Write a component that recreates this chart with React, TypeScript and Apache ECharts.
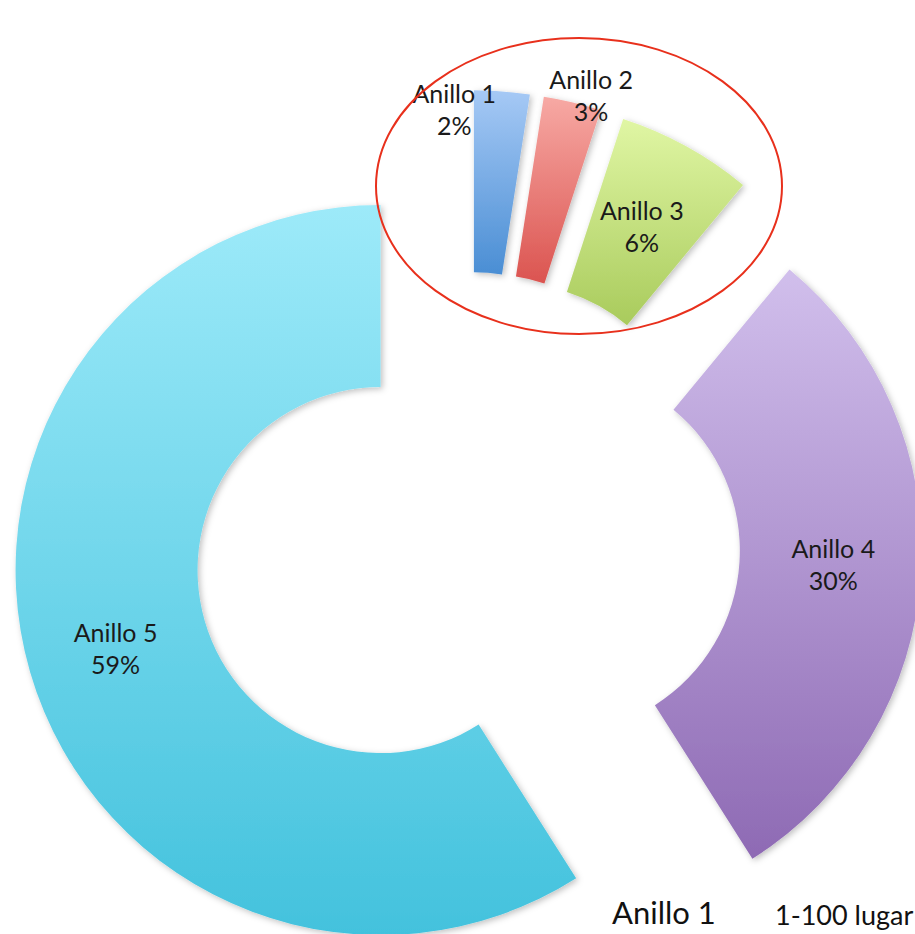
import React, { useEffect, useRef } from "react";
import * as echarts from "echarts";

const categories = ["Anillo 1", "Anillo 2", "Anillo 3", "Anillo 4", "Anillo 5"];
const values = [2.45, 2.55, 6, 30, 59];
const topColors = ["#A6C9F5", "#F7A9A4", "#E0F6A4", "#D1BFEC", "#9DEAF9"];
const bottomColors = ["#4A8ED4", "#DB5450", "#A9CB5C", "#8E6AB4", "#43C2DD"];
const labelShift = [
  [-41, -70],
  [39, -93],
  [-2, 3],
  [0, -4],
  [1, 1],
];
const footerTexts = ["Anillo 1", "1-100 lugar"];

export default function App() {
  const ref = useRef<HTMLDivElement>(null);
  useEffect(() => {
    if (!ref.current) return;
    const chart = echarts.init(ref.current, null, { renderer: "svg" });
    const data = categories.map((name, i) => {
      const color = new echarts.graphic.LinearGradient(0, 0, 0, 1, [
        { offset: 0, color: topColors[i] },
        { offset: 1, color: bottomColors[i] },
      ]);
      return {
        name,
        value: values[i],
        selected: true,
        itemStyle: { color },
        select: { itemStyle: { color } },
      };
    });
    chart.setOption({
      animation: false,
      backgroundColor: "#ffffff",
      series: [
        {
          type: "pie",
          center: [467, 545],
          radius: [183, 365],
          startAngle: 90,
          clockwise: true,
          selectedMode: "multiple",
          selectedOffset: 90,
          avoidLabelOverlap: false,
          itemStyle: {
            shadowColor: "rgba(0,0,0,0.25)",
            shadowBlur: 6,
            shadowOffsetX: 2,
            shadowOffsetY: 2,
          },
          label: {
            show: true,
            position: "inside",
            formatter: (p: any) => `${p.name}\n${Math.round(p.value)}%`,
            fontFamily: "Lato",
            fontSize: 25,
            lineHeight: 32,
            color: "#1a1a1a",
            align: "center",
          },
          labelLine: { show: false },
          labelLayout: (params: any) => ({
            dx: labelShift[params.dataIndex][0],
            dy: labelShift[params.dataIndex][1],
          }),
          emphasis: { disabled: true },
          data,
        },
      ],
      graphic: [
        {
          type: "ellipse",
          shape: { cx: 579, cy: 186, rx: 203, ry: 148 },
          style: { fill: "none", stroke: "#E8301C", lineWidth: 2 },
          z: 10,
        },
        {
          type: "text",
          left: 612,
          top: 896,
          style: {
            text: footerTexts[0],
            fontFamily: "Lato",
            fontSize: 31,
            fill: "#111111",
          },
        },
        {
          type: "text",
          left: 775,
          top: 901,
          style: {
            text: footerTexts[1],
            fontFamily: "Lato",
            fontSize: 27,
            fill: "#111111",
          },
        },
      ],
    });
    return () => chart.dispose();
  }, []);
  return (
    <div
      ref={ref}
      style={{ position: "fixed", left: 0, top: 0, width: 915, height: 934 }}
    />
  );
}
